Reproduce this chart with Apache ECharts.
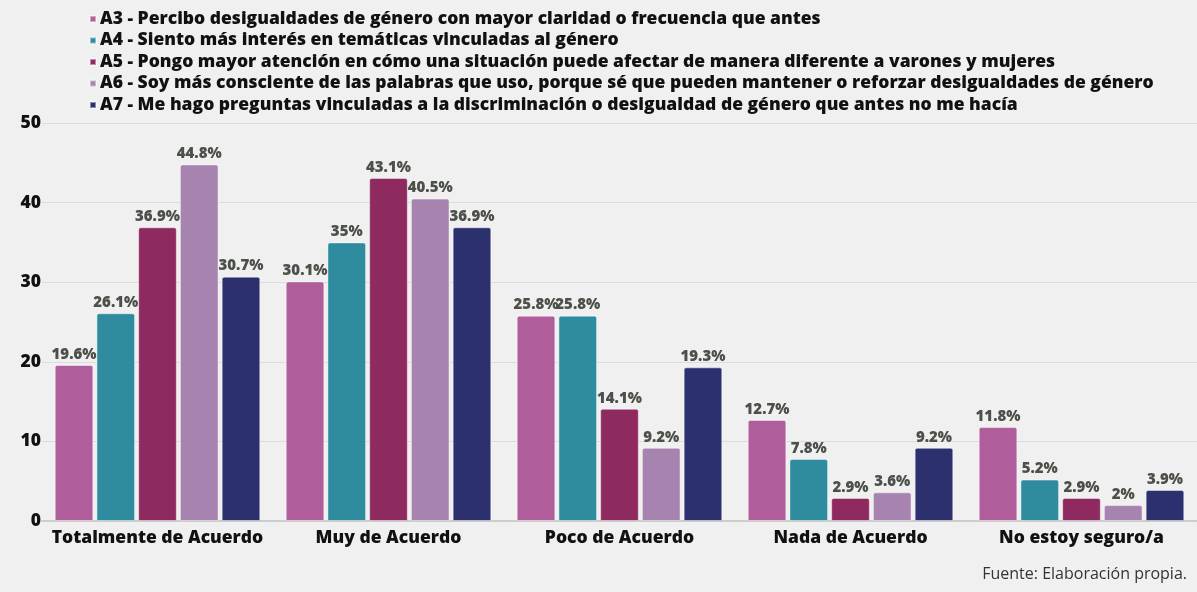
<!DOCTYPE html>
<html>
<head>
<meta charset="utf-8">
<script src="https://cdn.jsdelivr.net/npm/echarts@6/dist/echarts.min.js"></script>
<style>
  html, body { margin: 0; padding: 0; background: #f0f0f0; }
  #chart { width: 1197px; height: 592px; }
</style>
</head>
<body>
<div id="chart"></div>
<script>
// categorias del eje x
const categories = ["Totalmente de Acuerdo", "Muy de Acuerdo", "Poco de Acuerdo", "Nada de Acuerdo", "No estoy seguro/a"];
const seriesNames = [
  "A3 - Percibo desigualdades de género con mayor claridad o frecuencia que antes",
  "A4 - Siento más interés en temáticas vinculadas al género",
  "A5 - Pongo mayor atención en cómo una situación puede afectar de manera diferente a varones y mujeres",
  "A6 - Soy más consciente de las palabras que uso, porque sé que pueden mantener o reforzar desigualdades de género",
  "A7 - Me hago preguntas vinculadas a la discriminación o desigualdad de género que antes no me hacía"
];
const a3 = [19.6, 30.1, 25.8, 12.7, 11.8];
const a4 = [26.1, 35, 25.8, 7.8, 5.2];
const a5 = [36.9, 43.1, 14.1, 2.9, 2.9];
const a6 = [44.8, 40.5, 9.2, 3.6, 2];
const a7 = [30.7, 36.9, 19.3, 9.2, 3.9];
const colors = ["#b05e9b", "#2e8c9e", "#8e2a60", "#a783b0", "#2d306e"];

const font = "'Open Sans', 'Noto Sans', sans-serif";
let myChart = echarts.init(document.getElementById("chart"));

let series = [];
[a3, a4, a5, a6, a7].forEach(function (d, i) {
  series.push({
    name: seriesNames[i],
    type: "bar",
    data: d,
    barGap: "8%",
    barCategoryGap: "11%",
    itemStyle: {
      color: colors[i],
      borderColor: "rgba(255,255,255,0.45)",
      borderWidth: 1,
      borderRadius: [2, 2, 0, 0]
    },
    label: {
      show: true,
      position: "top",
      distance: 3,
      formatter: "{c}%",
      color: "#4b5048",
      fontFamily: font,
      fontWeight: 800,
      fontSize: 15
    }
  });
});

let option = {
  backgroundColor: "#f0f0f0",
  color: colors,
  animation: false,
  legend: {
    orient: "vertical",
    left: 84,
    top: 5,
    itemGap: 3.5,
    itemWidth: 6,
    itemHeight: 6,
    icon: "rect",
    selectedMode: false,
    textStyle: {
      color: "#111",
      fontFamily: font,
      fontWeight: 800,
      fontSize: 17.5,
      padding: [0, 0, 0, -1]
    }
  },
  title: {
    text: "Fuente: Elaboración propia.",
    right: 5,
    bottom: 5,
    textStyle: {
      color: "#333",
      fontFamily: font,
      fontWeight: "normal",
      fontSize: 16
    }
  },
  grid: {
    left: 42,
    right: -4,
    top: 123,
    bottom: 71
  },
  xAxis: {
    type: "category",
    data: categories,
    axisLine: { show: true, lineStyle: { color: "#cccccc", width: 2 } },
    axisTick: { show: false },
    axisLabel: {
      interval: 0,
      color: "#111",
      fontFamily: font,
      fontWeight: 800,
      fontSize: 17.5,
      margin: 8
    }
  },
  yAxis: {
    type: "value",
    min: 0,
    max: 50,
    interval: 10,
    axisLine: { show: false },
    axisTick: { show: false },
    splitLine: { lineStyle: { color: "#dcdcdc", width: 1 } },
    axisLabel: {
      color: "#111",
      fontFamily: font,
      fontWeight: 800,
      fontSize: 17.5,
      margin: 1
    }
  },
  series: series
};

myChart.setOption(option, true);
</script>
</body>
</html>
